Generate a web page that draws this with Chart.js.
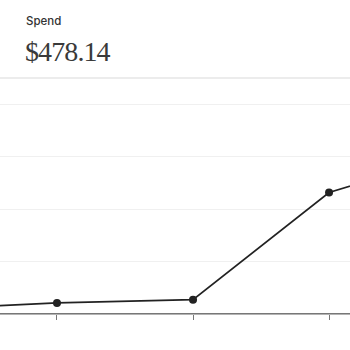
<!DOCTYPE html>
<html><head><meta charset="utf-8">
<script src="https://cdn.jsdelivr.net/npm/chart.js@4"></script>
<style>
html,body{margin:0;padding:0;background:#fff;width:350px;height:350px;overflow:hidden;}
#wrap{position:relative;width:350px;height:350px;}
#label{position:absolute;left:26px;top:14px;font-family:Inter,sans-serif;font-size:11.5px;font-weight:500;color:#333;}
#value{position:absolute;left:25px;top:35px;font-family:"Liberation Serif",serif;font-size:28px;color:#3a3a3a;letter-spacing:-0.9px;line-height:34px;}
#sep{position:absolute;left:0;top:77px;width:350px;height:2px;background:#ececec;}
canvas{position:absolute;left:0;top:0;}
</style></head>
<body><div id="wrap">
<div id="label">Spend</div>
<div id="value">$478.14</div>
<div id="sep"></div>
<canvas id="c" width="350" height="350"></canvas>
</div>
<script>
const positions = [0, 1, 2, 3, 4];
const spend = [8.8, 21, 27.2, 231.4, 311.4];
const yTicks = [0, 100, 200, 300, 400];

new Chart(document.getElementById('c'), {
  type: 'line',
  data: {
    datasets: [{
      data: positions.map((x, i) => ({x: x, y: spend[i]})),
      borderColor: '#222',
      backgroundColor: '#222',
      borderWidth: 1.75,
      pointRadius: 4,
      pointHoverRadius: 4,
      pointBackgroundColor: '#222',
      pointBorderWidth: 0,
      tension: 0
    }]
  },
  options: {
    responsive: false,
    animation: false,
    events: [],
    layout: {autoPadding: false, padding: {top: 104, left: 0, right: 0, bottom: 0}},
    plugins: {legend: {display: false}, tooltip: {enabled: false}},
    scales: {
      x: {
        type: 'linear',
        min: 0.581,
        max: 3.154,
        afterBuildTicks: s => { s.ticks = [1, 2, 3].map(v => ({value: v})); },
        afterFit: s => { s.height = 36; },
        ticks: {display: false},
        grid: {drawOnChartArea: false, drawTicks: true, tickLength: 6, color: '#777', lineWidth: 1},
        border: {display: true, color: '#777', width: 1.5}
      },
      y: {
        min: yTicks[0],
        max: yTicks[yTicks.length - 1],
        afterBuildTicks: s => { s.ticks = yTicks.map(v => ({value: v})); },
        afterFit: s => { s.width = 0; },
        ticks: {display: false},
        grid: {color: '#f0f0f0', lineWidth: 1, drawTicks: false},
        border: {display: false}
      }
    }
  }
});
</script>
</body></html>
